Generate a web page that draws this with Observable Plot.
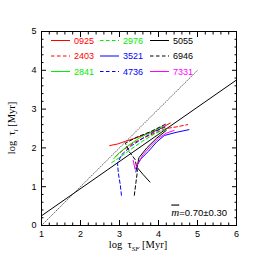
<!DOCTYPE html>
<html><head>
<meta charset="utf-8">
<script src="https://cdn.jsdelivr.net/npm/d3@7"></script>
<script src="https://cdn.jsdelivr.net/npm/@observablehq/plot@0.6"></script>
<style>body{margin:0;background:#fff}</style>
</head><body><div id="chart"></div>
<script>
// Series (galaxy IDs), colours, dash styles
const seriesNames = ["0925","2403","2841","2976","3521","4736","5055","6946","7331"];
const seriesColors = ["#ff0000","#ff0000","#00ee00","#00ee00","#0000ff","#0000ff","#000000","#000000","#ff00ff"];
const seriesDashed = [false,true,false,true,false,true,false,true,false];

// log tau_SF (x) and log tau_l (y) per series
const x0925 = [2.75,2.95,3.15,3.4,3.7,4.0,4.3];
const y0925 = [2.06,2.1,2.17,2.25,2.36,2.47,2.64];
const x2403 = [2.9,3.1,3.35,3.6,3.9,4.2,4.45,4.75];
const y2403 = [1.78,1.95,2.12,2.25,2.38,2.5,2.54,2.6];
const x2841 = [2.85,3.0,3.25,3.55,3.85,4.1];
const y2841 = [1.72,1.88,2.08,2.28,2.43,2.55];
const x2976 = [2.8,3.0,3.3,3.6,3.9,4.2];
const y2976 = [1.62,1.75,1.97,2.18,2.36,2.5];
const x3521 = [3.42,3.45,3.55,3.75,3.95,4.15,4.45,4.78];
const y3521 = [1.38,1.55,1.72,1.92,2.15,2.32,2.4,2.47];
const x4736 = [3.05,3.02,2.97,2.95,3.05,3.3,3.6,3.9,4.2];
const y4736 = [0.78,1.05,1.35,1.6,1.82,2.05,2.25,2.42,2.55];
const x5055 = [3.78,3.6,3.45,3.5,3.7,3.95,4.2];
const y5055 = [1.12,1.32,1.5,1.75,2.0,2.25,2.45];
const x6946 = [3.38,3.42,3.46,3.4,3.25,3.15,3.45,3.8,4.2];
const y6946 = [0.78,1.1,1.4,1.7,1.9,2.12,2.28,2.42,2.62];
const x7331 = [3.35,3.4,3.45,3.6,3.8,4.0,4.2,4.4];
const y7331 = [1.68,1.45,1.55,1.82,2.05,2.25,2.38,2.45];

// Reference lines (endpoints)
const oneToOneX = [1,5];
const oneToOneY = [0,4];
const fitX = [1,6];
const fitY = [0.25,3.75];
const fitLabel = "0.70±0.30";

// Axis ticks
const xMajor = [1,2,3,4,5,6];
const yMajor = [0,1,2,3,4,5];
const xMinor = [1.2,1.4,1.6,1.8,2.2,2.4,2.6,2.8,3.2,3.4,3.6,3.8,4.2,4.4,4.6,4.8,5.2,5.4,5.6,5.8];
const yMinor = [0.2,0.4,0.6,0.8,1.2,1.4,1.6,1.8,2.2,2.4,2.6,2.8,3.2,3.4,3.6,3.8,4.2,4.4,4.6,4.8];

const xs = [x0925,x2403,x2841,x2976,x3521,x4736,x5055,x6946,x7331];
const ys = [y0925,y2403,y2841,y2976,y3521,y4736,y5055,y6946,y7331];
const series = seriesNames.map((name,i) => ({
  name, color: seriesColors[i], dashed: seriesDashed[i],
  rows: xs[i].map((x,j) => ({x, y: ys[i][j]}))
}));
const oneToOne = oneToOneX.map((x,i) => ({x, y: oneToOneY[i]}));
const fit = fitX.map((x,i) => ({x, y: fitY[i]}));

const MAJ = 5, MIN = 2.5;
const noText = () => "";
const plot = Plot.plot({
  width: 266, height: 266,
  marginLeft: 41, marginRight: 30, marginTop: 31, marginBottom: 41,
  x: {domain: [1,6]},
  y: {domain: [0,5]},
  style: {fontFamily: "'Liberation Sans', Arial, sans-serif", fontSize: "9px", background: "white", color: "black"},
  marks: [
    Plot.line(oneToOne, {x: "x", y: "y", stroke: "#444", strokeWidth: 0.8, strokeDasharray: "1,1.6"}),
    Plot.line(fit, {x: "x", y: "y", stroke: "black", strokeWidth: 1}),
    ...series.map(s => Plot.line(s.rows, {x: "x", y: "y", stroke: s.color, strokeWidth: 1,
      strokeDasharray: s.dashed ? "3.5,2.5" : null, curve: "linear"})),
    Plot.frame({stroke: "black", strokeWidth: 1}),
    // labels
    Plot.axisX({anchor: "bottom", ticks: xMajor, tickSize: 0, tickPadding: 5, label: null, tickFormat: d => d}),
    Plot.axisY({anchor: "left", ticks: yMajor, tickSize: 0, tickPadding: 5, label: null, tickFormat: d => d}),
    // inward major ticks
    Plot.axisX({anchor: "bottom", ticks: xMajor, tickSize: MAJ, dy: -MAJ, label: null, tickFormat: noText}),
    Plot.axisX({anchor: "top", ticks: xMajor, tickSize: MAJ, dy: MAJ, label: null, tickFormat: noText}),
    Plot.axisY({anchor: "left", ticks: yMajor, tickSize: MAJ, dx: MAJ, label: null, tickFormat: noText}),
    Plot.axisY({anchor: "right", ticks: yMajor, tickSize: MAJ, dx: -MAJ, label: null, tickFormat: noText}),
    // inward minor ticks
    Plot.axisX({anchor: "bottom", ticks: xMinor, tickSize: MIN, dy: -MIN, label: null, tickFormat: noText}),
    Plot.axisX({anchor: "top", ticks: xMinor, tickSize: MIN, dy: MIN, label: null, tickFormat: noText}),
    Plot.axisY({anchor: "left", ticks: yMinor, tickSize: MIN, dx: MIN, label: null, tickFormat: noText}),
    Plot.axisY({anchor: "right", ticks: yMinor, tickSize: MIN, dx: -MIN, label: null, tickFormat: noText})
  ]
});
document.getElementById("chart").appendChild(plot);

const svg = d3.select(plot);
const serif = "'Liberation Serif', 'Times New Roman', serif";
const sans = "'Liberation Sans', Arial, sans-serif";

// Legend (3 columns, column-major)
const colLine = [[51,70],[100,119],[150,169]];
const colText = [74,123,173];
const rowY = [40.5,56,71.5];
const leg = svg.append("g").attr("class","legend");
series.forEach((s,i) => {
  const c = Math.floor(i/3), r = i%3;
  leg.append("line").attr("x1", colLine[c][0]).attr("x2", colLine[c][1])
    .attr("y1", rowY[r]).attr("y2", rowY[r]).attr("stroke", s.color).attr("stroke-width", 1)
    .attr("stroke-dasharray", s.dashed ? "3.5,2.5" : null);
  leg.append("text").attr("x", colText[c]).attr("y", rowY[r]).attr("dy","0.35em")
    .attr("text-anchor","start")
    .attr("fill", s.color).attr("font-family", sans).attr("font-size", 9).text(s.name);
});

// Fit annotation
const ann = svg.append("text").attr("x", 227).attr("y", 215.5).attr("text-anchor","end")
  .attr("font-family", sans).attr("font-size", 9.5);
ann.append("tspan").attr("font-family", serif).attr("font-style","italic").attr("font-size", 11)
  .attr("text-decoration","overline").text("m");
ann.append("tspan").text("=" + fitLabel);

// Axis titles
const xl = svg.append("text").attr("x", 138).attr("y", 248).attr("text-anchor","middle")
  .attr("font-family", serif).attr("font-size", 10.5);
xl.append("tspan").text("log  τ");
xl.append("tspan").attr("font-size", 7).attr("font-style","italic").attr("dy", 2.5).text("SF");
xl.append("tspan").attr("dy", -2.5).text(" [Myr]");

const yl = svg.append("text").attr("transform","translate(15,128) rotate(-90)").attr("text-anchor","middle")
  .attr("font-family", serif).attr("font-size", 10.5);
yl.append("tspan").text("log  τ");
yl.append("tspan").attr("font-size", 7).attr("font-style","italic").attr("dy", 2.5).text("l");
yl.append("tspan").attr("dy", -2.5).text(" [Myr]");
</script>
</body></html>
